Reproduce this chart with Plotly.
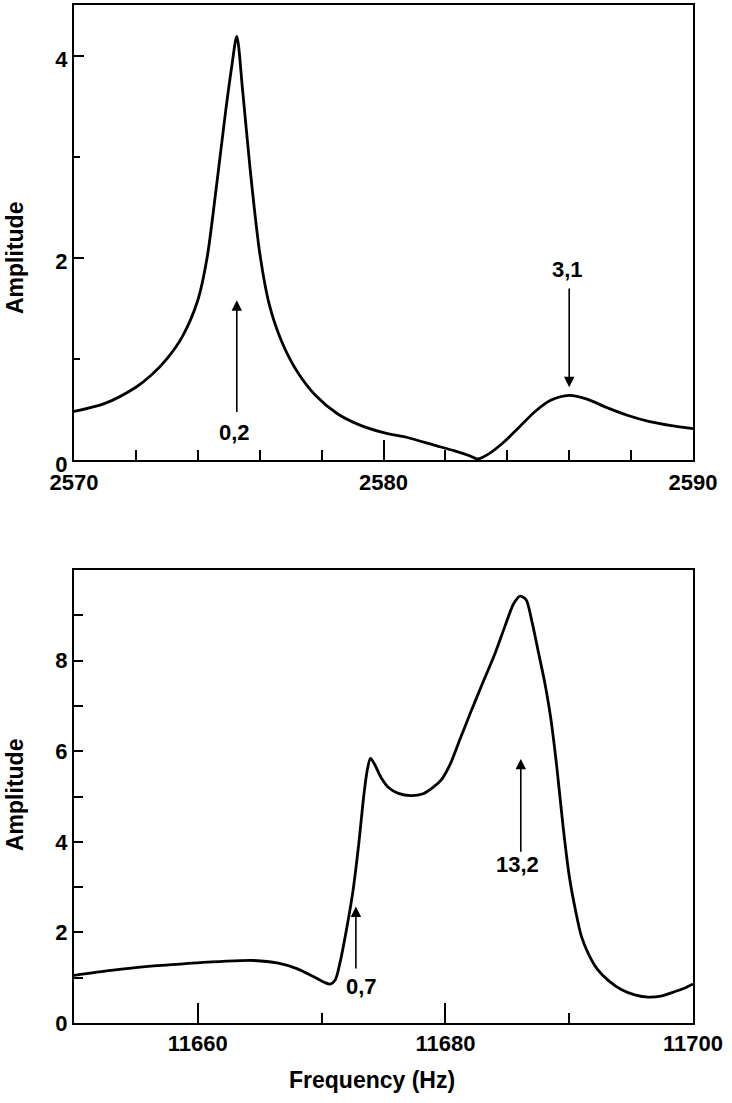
import plotly.graph_objects as go

# ---- data ----
freq_top = [2570.0, 2571.0, 2572.0, 2572.5, 2573.0, 2573.5, 2574.0, 2574.3, 2574.6, 2574.9,
            2575.1, 2575.26, 2575.45, 2575.7, 2576.0, 2576.3, 2576.7, 2577.2, 2577.8, 2578.5,
            2579.2, 2580.0, 2580.8, 2581.6, 2582.3, 2582.8, 2583.05, 2583.4, 2583.9, 2584.4,
            2584.9, 2585.4, 2586.0, 2586.6, 2587.2, 2587.9, 2588.6, 2589.3, 2590.0]
amp_top = [0.48, 0.56, 0.72, 0.84, 1.0, 1.22, 1.58, 2.0, 2.7, 3.45,
           3.9, 4.19, 3.65, 2.85, 2.05, 1.55, 1.18, 0.88, 0.64, 0.46,
           0.35, 0.27, 0.22, 0.15, 0.09, 0.04, 0.01, 0.06, 0.18, 0.33,
           0.48, 0.59, 0.64, 0.6, 0.52, 0.44, 0.38, 0.34, 0.31]

freq_bot = [11650, 11653, 11656, 11659, 11662, 11664.5, 11666.5, 11668, 11669.3, 11670.2,
            11670.7, 11671.1, 11671.5, 11672.0, 11672.5, 11673.0, 11673.4, 11673.7, 11673.95,
            11674.3, 11674.8, 11675.4, 11676.2, 11677.2, 11678.2, 11679.0, 11679.7, 11680.4,
            11681.2, 11682.0, 11683.0, 11684.0, 11684.8, 11685.5, 11686.0, 11686.5, 11687.0,
            11687.5, 11688.0, 11688.5, 11689.0, 11689.5, 11690.0, 11690.5, 11691.0, 11691.6,
            11692.3, 11693.2, 11694.2, 11695.3, 11696.4, 11697.5, 11698.6, 11699.4, 11700.0]
amp_bot = [1.05, 1.16, 1.25, 1.31, 1.36, 1.38, 1.32, 1.2, 1.03, 0.9,
           0.86, 0.95, 1.35, 2.05, 2.85, 3.95, 5.0, 5.6, 5.84,
           5.7, 5.42, 5.2, 5.07, 5.02, 5.06, 5.2, 5.38, 5.72,
           6.28, 6.83, 7.5, 8.15, 8.75, 9.25, 9.42, 9.35, 8.85,
           8.2, 7.55, 6.75, 5.65, 4.35, 3.25, 2.5, 1.9, 1.5,
           1.18, 0.93, 0.74, 0.62, 0.57, 0.6, 0.7, 0.78, 0.86]

# tick labels
xticks_top = [2570, 2580, 2590]
yticks_top = [0, 2, 4]
xticks_bot = [11660, 11680, 11700]
yticks_bot = [0, 2, 4, 6, 8]

# mode labels: (label, arrow x, arrow tail y, arrow tip y, label x, label y)
modes_top = [("0,2", 2575.26, 0.46, 1.58, 2575.17, 0.27),
             ("3,1", 2586.0, 1.71, 0.72, 2585.93, 1.88)]
modes_bot = [("0,7", 11672.77, 1.17, 2.57, 11673.26, 0.80),
             ("13,2", 11686.09, 3.75, 5.83, 11685.82, 3.50)]

FONT = "Liberation Sans, Arial, Helvetica, sans-serif"
W, H = 732, 1103

fig = go.Figure()
fig.add_trace(go.Scatter(x=freq_top, y=amp_top, mode="lines", xaxis="x", yaxis="y",
                         line=dict(color="black", width=2.8, shape="spline", smoothing=0.8),
                         showlegend=False))
fig.add_trace(go.Scatter(x=freq_bot, y=amp_bot, mode="lines", xaxis="x2", yaxis="y2",
                         line=dict(color="black", width=2.8, shape="spline", smoothing=0.8),
                         showlegend=False))

xdom = [74 / W, 693 / W]
ydom_top = [(H - 460) / H, (H - 5) / H]
ydom_bot = [(H - 1023) / H, (H - 570) / H]

tickfont = dict(family=FONT, size=22, color="black", weight="bold")
common = dict(showline=True, mirror=True, linecolor="black", linewidth=2,
              ticks="inside", tickcolor="black", tickwidth=2, showgrid=False,
              zeroline=False, tickfont=tickfont, automargin=False,
              ticklabeloverflow="allow")

fig.update_layout(
    width=W, height=H,
    margin=dict(l=0, r=0, t=0, b=0, autoexpand=False),
    paper_bgcolor="white", plot_bgcolor="white",
    font=dict(family=FONT, color="black"),
    xaxis=dict(domain=xdom, anchor="y", range=[2570, 2590], tickmode="array",
               tickvals=xticks_top, ticktext=[str(v) for v in xticks_top], ticklen=20,
               ticklabelstandoff=2,
               minor=dict(ticks="inside", dtick=2, tick0=2570, ticklen=10,
                          tickwidth=2, tickcolor="black"), **common),
    yaxis=dict(domain=ydom_top, anchor="x", range=[0, 4.5], tickmode="array",
               tickvals=yticks_top, ticktext=[str(v) for v in yticks_top], ticklen=10,
               ticklabelshift=4,
               minor=dict(ticks="inside", dtick=1, tick0=0, ticklen=6,
                          tickwidth=2, tickcolor="black"), **common),
    xaxis2=dict(domain=xdom, anchor="y2", range=[11650, 11700], tickmode="array",
                tickvals=xticks_bot, ticktext=[str(v) for v in xticks_bot], ticklen=20,
                minor=dict(ticks="inside", dtick=10, tick0=11650, ticklen=10,
                           tickwidth=2, tickcolor="black"), **common),
    yaxis2=dict(domain=ydom_bot, anchor="x2", range=[0, 10], tickmode="array",
                tickvals=yticks_bot, ticktext=[str(v) for v in yticks_bot], ticklen=9,
                minor=dict(ticks="inside", dtick=1, tick0=0, ticklen=9,
                           tickwidth=2, tickcolor="black"), **common),
)

ann = []
labfont = dict(family=FONT, size=22, color="black", weight="bold")
for (xr, yr, modes) in (("x", "y", modes_top), ("x2", "y2", modes_bot)):
    for (lab, axx, tail, tip, lx, ly) in modes:
        ann.append(dict(x=axx, y=tip, ax=axx, ay=tail, xref=xr, yref=yr, axref=xr, ayref=yr,
                        text="", showarrow=True, arrowhead=2, arrowsize=1.3,
                        arrowwidth=1.6, arrowcolor="black"))
        ann.append(dict(x=lx, y=ly, xref=xr, yref=yr, text=lab,
                        showarrow=False, font=labfont, xanchor="center", yanchor="middle"))

titlefont = dict(family=FONT, size=23, color="black", weight="bold")
ann.append(dict(x=15 / W, y=(H - 258) / H, xref="paper", yref="paper", text="Amplitude",
                textangle=-90, showarrow=False, font=titlefont, xanchor="center", yanchor="middle"))
ann.append(dict(x=15 / W, y=(H - 795) / H, xref="paper", yref="paper", text="Amplitude",
                textangle=-90, showarrow=False, font=titlefont, xanchor="center", yanchor="middle"))
ann.append(dict(x=372 / W, y=(H - 1080) / H, xref="paper", yref="paper",
                text="Frequency (Hz)", showarrow=False, font=titlefont,
                xanchor="center", yanchor="middle"))
fig.update_layout(annotations=ann)

fig.write_html("out.html", config={"displayModeBar": False},
               post_script="document.body.style.margin='0px';document.body.style.overflow='hidden';")
